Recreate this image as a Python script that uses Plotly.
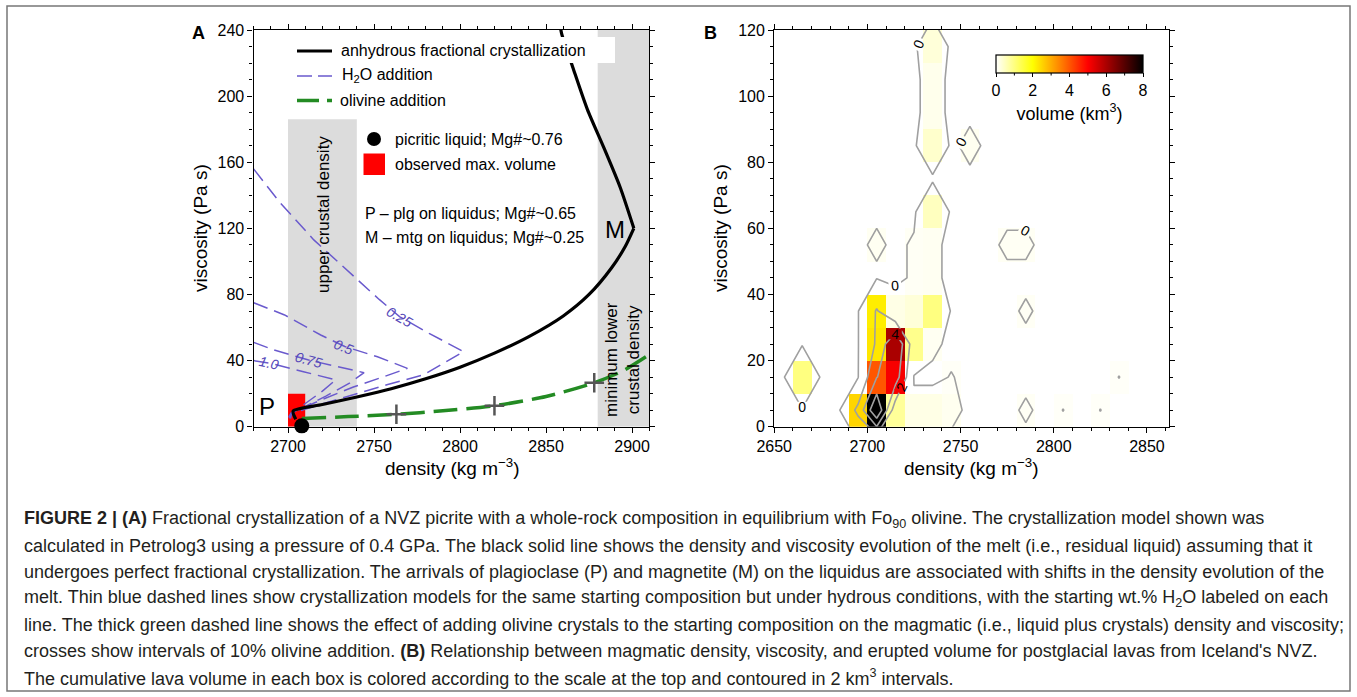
import plotly.graph_objects as go

W, H = 1357, 697

# ---------------- Panel A data ----------------
# anhydrous fractional crystallization: lower branch up to magnetite-in (M), then upper branch
anhyd_low_x = [2704.5, 2703, 2720, 2740, 2760, 2780, 2800, 2820, 2840, 2860, 2875, 2888, 2896, 2901]
anhyd_low_y = [4.5, 9.5, 13.4, 18, 23, 29, 36, 44.5, 54.5, 67, 80, 96, 109, 120]
anhyd_up_x = [2901, 2893, 2883.5, 2874, 2866, 2859, 2858]
anhyd_up_y = [120, 145, 169, 192, 216, 238, 244]

h2o_025_x = [2680, 2695, 2715, 2734, 2753, 2765, 2782, 2802, 2779, 2758, 2738, 2719, 2702, 2700.5]
h2o_025_y = [156, 136, 113, 95, 77, 66.5, 56.5, 45.4, 31.5, 25.5, 19.5, 13.5, 8, 5.5]
h2o_05_x = [2680, 2698, 2719, 2733, 2752, 2769.4, 2755, 2738, 2720, 2702, 2700.5]
h2o_05_y = [75, 67.6, 55.5, 48.5, 42.3, 35.3, 30, 24, 16.5, 8.5, 6]
h2o_075_x = [2680, 2692, 2712, 2729, 2744.2, 2736, 2722, 2702, 2701]
h2o_075_y = [51, 46.4, 40.3, 36.3, 32.7, 26.5, 18.5, 8, 5]
h2o_10_x = [2680, 2690, 2709, 2727.7, 2720, 2711, 2702, 2701.5]
h2o_10_y = [40, 38.3, 33.3, 28.3, 21.5, 14.5, 8, 5]
h2o_labels = ["0.25", "0.5", "0.75", "1.0"]
h2o_label_x = [2765, 2732.5, 2712, 2689]
h2o_label_y = [66.5, 48.5, 40.3, 38.3]
h2o_label_angle = [30, 21, 15, 12]

olivine_x = [2708, 2735, 2763, 2790, 2820, 2850, 2878, 2895, 2912]
olivine_y = [5, 6.1, 7.5, 9.6, 12.7, 18.3, 26.6, 34, 45]
cross_x = [2763, 2820, 2878]
cross_y = [7.5, 12.7, 26.6]

picrite_x = [2708]
picrite_y = [0.5]

maxvol_x = [2700, 2710]
maxvol_y = [0, 20]

upper_crust_x = [2700, 2740]
upper_crust_y = [0, 186]
lower_crust_x = [2880, 2910]
lower_crust_y = [0, 240]

# ---------------- Panel B data ----------------
cell_x = [2665, 2695, 2705, 2715, 2725, 2735, 2745,
          2705, 2715, 2745,
          2705, 2715, 2725, 2735,
          2705, 2715, 2725, 2735,
          2725, 2735, 2725, 2735, 2705,
          2735, 2735, 2735, 2735, 2735,
          2755, 2775, 2785, 2785, 2785,
          2805, 2825, 2835]
cell_y = [15, 5, 5, 5, 5, 5, 5,
          15, 15, 15,
          25, 25, 25, 25,
          35, 35, 35, 35,
          45, 45, 55, 55, 55,
          65, 85, 95, 105, 115,
          85, 55, 55, 35, 5,
          5, 5, 15]
cell_v = [1.0, 2.5, 8.0, 0.8, 0.2, 0.2, 0.12,
          4.0, 5.1, 0.06,
          2.3, 6.0, 0.9, 0.1,
          2.2, 0.2, 0.3, 1.0,
          0.08, 0.1, 0.08, 0.1, 0.1,
          0.5, 0.4, 0.15, 0.15, 0.3,
          0.12, 0.09, 0.09, 0.08, 0.08,
          0.052, 0.052, 0.052]

cbar_ticks = [0, 2, 4, 6, 8]
cbar_minor = [1, 3, 5, 7]

grid_x = list(range(2645, 2866, 10))
grid_y = list(range(-5, 126, 10))
z = [[0.0 for _ in grid_x] for _ in grid_y]
for cx, cy, cv in zip(cell_x, cell_y, cell_v):
    z[grid_y.index(cy)][grid_x.index(cx)] = cv

hot_r = [[0, "#ffffff"], [0.25, "#ffff00"], [0.44, "#ff8000"], [0.625, "#ff0000"], [1, "#000000"]]

BLUE = "#6a5acd"
GREEN = "#238b23"


def pxx(x):
    return x / W


def pyy(y):
    return 1 - y / H


fig = go.Figure()

for hx, hy in [(h2o_025_x, h2o_025_y), (h2o_05_x, h2o_05_y), (h2o_075_x, h2o_075_y), (h2o_10_x, h2o_10_y)]:
    fig.add_trace(go.Scatter(x=hx, y=hy, mode="lines", line=dict(color=BLUE, width=1.5, dash="15px,7px"),
                             xaxis="x", yaxis="y", showlegend=False, hoverinfo="skip"))
for ax_, ay_ in [(anhyd_low_x, anhyd_low_y), (anhyd_up_x, anhyd_up_y)]:
    fig.add_trace(go.Scatter(x=ax_, y=ay_, mode="lines",
                             line=dict(color="black", width=3.2, shape="spline", smoothing=0.7),
                             xaxis="x", yaxis="y", showlegend=False, hoverinfo="skip"))
fig.add_trace(go.Scatter(x=olivine_x, y=olivine_y, mode="lines",
                         line=dict(color=GREEN, width=3.5, dash="24px,9px", shape="spline", smoothing=0.7),
                         xaxis="x", yaxis="y", showlegend=False, hoverinfo="skip"))
fig.add_trace(go.Scatter(x=cross_x, y=cross_y, mode="markers",
                         marker=dict(symbol="cross-thin", size=14, line=dict(color="#555555", width=2.5)),
                         xaxis="x", yaxis="y", showlegend=False, hoverinfo="skip"))
fig.add_trace(go.Scatter(x=picrite_x, y=picrite_y, mode="markers", marker=dict(color="black", size=15),
                         cliponaxis=False, xaxis="x", yaxis="y", showlegend=False, hoverinfo="skip"))

CB_X0, CB_X1, CB_TOP, CB_TH = 996, 1143, 55, 18
fig.add_trace(go.Heatmap(x=grid_x, y=grid_y, z=z, colorscale=hot_r, zmin=0, zmax=8, xaxis="x2", yaxis="y2",
                         hoverinfo="skip",
                         colorbar=dict(orientation="h", x=pxx((CB_X0 + CB_X1) / 2), xanchor="center",
                                       y=pyy(CB_TOP), yanchor="top",
                                       lenmode="pixels", len=CB_X1 - CB_X0, thickness=CB_TH, xpad=0, ypad=0,
                                       outlinecolor="black", outlinewidth=1.2,
                                       tickvals=cbar_ticks,
                                       ticks="outside", ticklen=4, tickwidth=1, tickcolor="black",
                                       tickfont=dict(size=16),
                                       title=dict(text="volume (km<sup>3</sup>)", side="bottom",
                                                  font=dict(size=18)))))
fig.add_trace(go.Contour(x=grid_x, y=grid_y, z=z, xaxis="x2", yaxis="y2", showscale=False,
                         contours=dict(start=0.05, end=6.1, size=2, coloring="none", showlabels=True,
                                       labelformat=".0f", labelfont=dict(size=14, color="black")),
                         line=dict(color="#a0a0a0", width=1.6, smoothing=0), hoverinfo="skip"))

axis_common = dict(ticks="outside", ticklen=5, tickwidth=1.2, tickcolor="black", showline=True,
                   linecolor="black", linewidth=1.3, mirror="ticks", showgrid=False, zeroline=False,
                   automargin=False, tickfont=dict(size=16, color="black"))

ydom = [pyy(426.7), pyy(30)]
fig.update_layout(
    width=W, height=H, autosize=False, margin=dict(l=0, r=0, t=0, b=0, pad=0, autoexpand=False),
    paper_bgcolor="white", plot_bgcolor="white",
    font=dict(family="Liberation Sans, Arial, Helvetica, sans-serif", color="black"),
    showlegend=False,
    xaxis=dict(domain=[pxx(253.6), pxx(649.3)], range=[2680, 2910], tick0=2700, dtick=50, anchor="y",
               minor=dict(dtick=10, tick0=2680, ticks="outside", ticklen=3, tickcolor="black"), **axis_common),
    yaxis=dict(domain=ydom, range=[0, 240], dtick=40, anchor="x",
               minor=dict(dtick=10, ticks="outside", ticklen=3, tickcolor="black"), **axis_common),
    xaxis2=dict(domain=[pxx(774.2), pxx(1169.3)], range=[2650, 2862], tick0=2650, dtick=50, anchor="y2",
                minor=dict(dtick=10, tick0=2650, ticks="outside", ticklen=3, tickcolor="black"), **axis_common),
    yaxis2=dict(domain=ydom, range=[0, 120], dtick=20, anchor="x2",
                minor=dict(dtick=5, ticks="outside", ticklen=3, tickcolor="black"), **axis_common),
)

shapes = []
# crustal density bands
shapes.append(dict(type="rect", xref="x", yref="y", x0=upper_crust_x[0], x1=upper_crust_x[1],
                   y0=upper_crust_y[0], y1=upper_crust_y[1], fillcolor="#dcdcdc", line=dict(width=0), layer="below"))
shapes.append(dict(type="rect", xref="x", yref="y", x0=lower_crust_x[0], x1=lower_crust_x[1],
                   y0=lower_crust_y[0], y1=lower_crust_y[1], fillcolor="#dcdcdc", line=dict(width=0), layer="below"))
shapes.append(dict(type="rect", xref="x", yref="y", x0=maxvol_x[0], x1=maxvol_x[1],
                   y0=maxvol_y[0], y1=maxvol_y[1], fillcolor="#ff0000", line=dict(width=0), layer="below"))
# legend background (first row)
shapes.append(dict(type="rect", xref="paper", yref="paper", x0=pxx(290), x1=pxx(615), y0=pyy(63), y1=pyy(37),
                   fillcolor="white", line=dict(width=0), layer="above"))
# legend samples
shapes.append(dict(type="line", xref="paper", yref="paper", x0=pxx(297), x1=pxx(332), y0=pyy(51), y1=pyy(51),
                   line=dict(color="black", width=3)))
shapes.append(dict(type="line", xref="paper", yref="paper", x0=pxx(297), x1=pxx(332), y0=pyy(76), y1=pyy(76),
                   line=dict(color=BLUE, width=1.5, dash="15px,6px")))
shapes.append(dict(type="line", xref="paper", yref="paper", x0=pxx(297), x1=pxx(332), y0=pyy(100.5), y1=pyy(100.5),
                   line=dict(color=GREEN, width=3.5, dash="22px,8px")))
shapes.append(dict(type="circle", xref="paper", yref="paper", x0=pxx(367), x1=pxx(381), y0=pyy(146), y1=pyy(132),
                   fillcolor="black", line=dict(width=0)))
shapes.append(dict(type="rect", xref="paper", yref="paper", x0=pxx(363.5), x1=pxx(385), y0=pyy(175), y1=pyy(153.5),
                   fillcolor="#ff0000", line=dict(width=0)))
# colorbar minor ticks
for v in cbar_minor:
    xp = CB_X0 + v / 8 * (CB_X1 - CB_X0)
    shapes.append(dict(type="line", xref="paper", yref="paper", x0=pxx(xp), x1=pxx(xp),
                       y0=pyy(CB_TOP + CB_TH), y1=pyy(CB_TOP + CB_TH + 2.5), line=dict(color="black", width=1)))
# outer frame
shapes.append(dict(type="rect", xref="paper", yref="paper", x0=pxx(7), x1=pxx(1350), y0=pyy(691), y1=pyy(6),
                   line=dict(color="#777777", width=1.5)))
fig.update_layout(shapes=shapes)

ann = []


def text(x, y, s, size=16, xanchor="left", angle=0, color="black"):
    ann.append(dict(x=pxx(x), y=pyy(y), xref="paper", yref="paper", text=s, showarrow=False,
                    xanchor=xanchor, yanchor="middle", textangle=angle, font=dict(size=size, color=color)))


text(339, 51, "anhydrous fractional crystallization")
text(340, 76, "H<sub>2</sub>O addition")
text(338, 100.5, "olivine addition")
text(393, 139, "picritic liquid; Mg#~0.76")
text(393, 164, "observed max. volume")
text(363, 213, "P – plg on liquidus; Mg#~0.65")
text(363, 237.5, "M – mtg on liquidus; Mg#~0.25")
text(267, 406, "P", size=24, xanchor="center")
text(615, 229, "M", size=24, xanchor="center")
text(323, 215, "upper crustal density", size=17, xanchor="center", angle=-90)
text(622, 360, "minimum lower<br>crustal density", size=17, xanchor="center", angle=-90)
text(198, 33, "<b>A</b>", size=18, xanchor="center")
text(710, 33, "<b>B</b>", size=18, xanchor="center")
text(200, 228, "viscosity (Pa s)", size=19, xanchor="center", angle=-90)
text(720, 228, "viscosity (Pa s)", size=19, xanchor="center", angle=-90)
text(451.5, 467, "density (kg m<sup>−3</sup>)", size=19, xanchor="center")
text(971, 467, "density (kg m<sup>−3</sup>)", size=19, xanchor="center")

for lab, lx, ly, la in zip(h2o_labels, h2o_label_x, h2o_label_y, h2o_label_angle):
    ann.append(dict(x=lx, y=ly, xref="x", yref="y", text="<i>" + lab + "</i>", showarrow=False,
                    textangle=la, font=dict(size=14, color="#5548b8")))

caption = [
    "<b>FIGURE 2 | (A)</b> Fractional crystallization of a NVZ picrite with a whole-rock composition in equilibrium with Fo<sub>90</sub> olivine. The crystallization model shown was",
    "calculated in Petrolog3 using a pressure of 0.4 GPa. The black solid line shows the density and viscosity evolution of the melt (i.e., residual liquid) assuming that it",
    "undergoes perfect fractional crystallization. The arrivals of plagioclase (P) and magnetite (M) on the liquidus are associated with shifts in the density evolution of the",
    "melt. Thin blue dashed lines show crystallization models for the same starting composition but under hydrous conditions, with the starting wt.% H<sub>2</sub>O labeled on each",
    "line. The thick green dashed line shows the effect of adding olivine crystals to the starting composition on the magmatic (i.e., liquid plus crystals) density and viscosity;",
    "crosses show intervals of 10% olivine addition. <b>(B)</b> Relationship between magmatic density, viscosity, and erupted volume for postglacial lavas from Iceland's NVZ.",
    "The cumulative lava volume in each box is colored according to the scale at the top and contoured in 2 km<sup>3</sup> intervals.",
]
cap_y = [519, 545.5, 572, 598, 625, 651, 677]
for line, yy in zip(caption, cap_y):
    text(22, yy, line, size=18, color="#231f20")

fig.update_layout(annotations=ann)

fig.write_html("out.html", config={"responsive": False, "displayModeBar": False},
               post_script="document.body.style.margin='0';document.body.style.overflow='hidden';")
